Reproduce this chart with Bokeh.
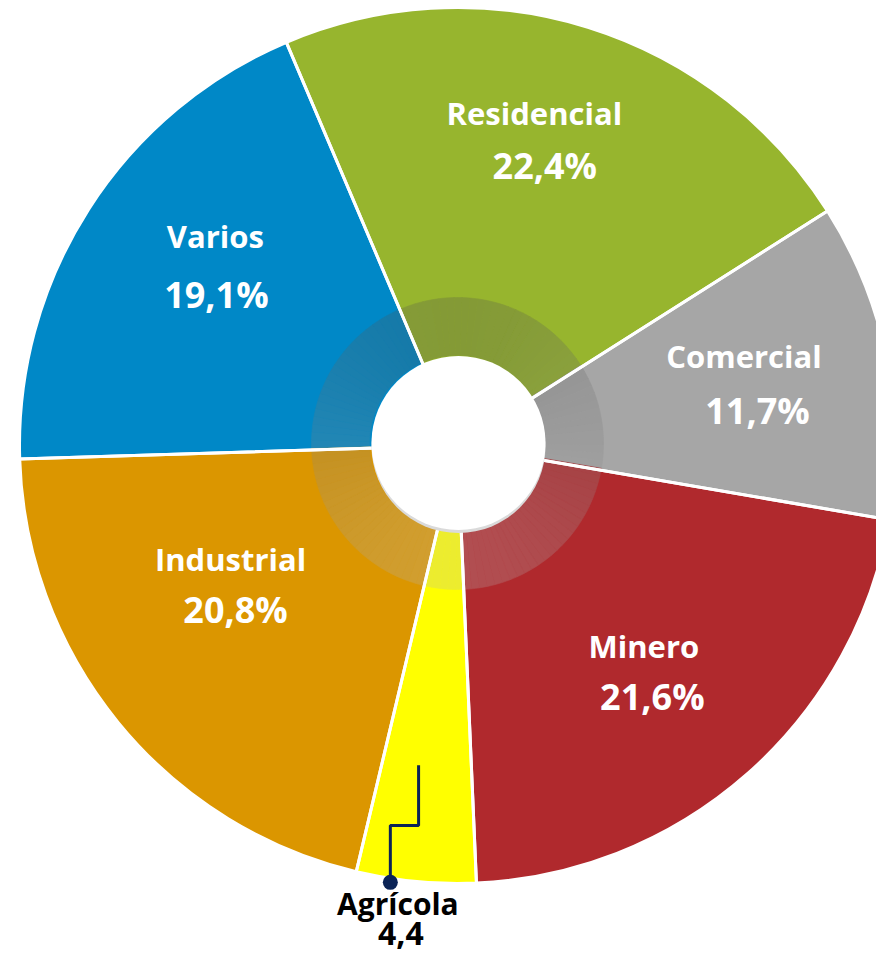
import math
import numpy as np
from bokeh.plotting import figure
from bokeh.models import ColumnDataSource, Range1d
from bokeh.core.properties import value
from bokeh.embed import file_html
from bokeh.resources import INLINE

# ---------------- data ----------------
categories = ["Residencial", "Comercial", "Minero", "Agrícola", "Industrial", "Varios"]
shares = [22.4, 11.7, 21.6, 4.4, 20.8, 19.1]
value_labels = ["22,4%", "11,7%", "21,6%", "4,4", "20,8%", "19,1%"]

# ---------------- style / layout ----------------
colors = ["#97B52E", "#A6A6A6", "#B0292D", "#FFFF00", "#DB9600", "#0088C7"]
label_colors = ["white", "white", "white", "black", "white", "white"]
START_DEG = 113.0          # where the first slice starts (counter-clockwise from 3 o'clock)
R_OUT = 438
RING_IN, RING_OUT = 88, 146
RING_CY = 2
RING_ALPHA = 0.26
HOLE_R = 87
NAME_R = [331, 297, 282, 473, 259, 313]
NAME_DTH = [3.9, 4.0, 0.0, -1.8, -10.4, -6.7]
TEXT_DY = 11
VALUE_DX = [10.5, 13.5, 8.5, 3, 5, 1]
VALUE_DY = [-52.5, -54.5, -50, -30, -50, -58]
NAME_SIZE = ["31px", "31px", "31px", "30px", "31px", "31px"]
VALUE_SIZE = ["36px", "36px", "36px", "32px", "36px", "36px"]
FONT = value("Open Sans")
NAVY = "#0B2356"

total = float(sum(shares))
cum = np.concatenate([[0.0], np.cumsum(shares)]) / total
start_deg = START_DEG - cum[:-1] * 360.0
end_deg = START_DEG - cum[1:] * 360.0
mid_deg = (start_deg + end_deg) / 2.0

src = ColumnDataSource(dict(
    cat=categories,
    start=np.radians(start_deg),
    end=np.radians(end_deg),
    color=colors,
))

p = figure(width=876, height=953, x_range=Range1d(-457, 419), y_range=Range1d(-508, 445),
           output_backend="svg", toolbar_location=None, min_border=0,
           outline_line_color=None, background_fill_color="white",
           border_fill_color="white")
p.axis.visible = False
p.grid.visible = False

# slices
p.wedge(x=0, y=0, radius=R_OUT, start_angle="start", end_angle="end", direction="clock",
        fill_color="color", line_color=None, source=src)


def hex_to_rgb(h):
    h = h.lstrip("#")
    return tuple(int(h[i:i + 2], 16) for i in (0, 2, 4))


# shaded ring: opaque blend of each slice colour with a grey that is darker at top
rs, re_, rc = [], [], []
for i, c in enumerate(colors):
    base = hex_to_rgb(c)
    n = max(2, int(abs(start_deg[i] - end_deg[i]) / 3))
    edges = np.linspace(start_deg[i], end_deg[i], n + 1)
    for k in range(n):
        a0, a1 = edges[k], edges[k + 1]
        am = math.radians((a0 + a1) / 2)
        g = 130 - 52 * math.sin(am)
        rgb = [int(round(b * (1 - RING_ALPHA) + g * RING_ALPHA)) for b in base]
        rs.append(math.radians(a0))
        re_.append(math.radians(a1))
        rc.append("#%02x%02x%02x" % tuple(rgb))
p.annular_wedge(x=0, y=RING_CY, inner_radius=RING_IN, outer_radius=RING_OUT,
                start_angle=rs, end_angle=re_, direction="clock",
                fill_color=rc, line_color=rc, line_width=0.6)

# white separators between slices
p.wedge(x=0, y=0, radius=R_OUT, start_angle="start", end_angle="end", direction="clock",
        fill_color=None, line_color="white", line_width=3, source=src)

# hole with a subtle shadow
p.circle(x=[1], y=[-0.5], radius=HOLE_R, fill_color="#dadada", line_color=None)
p.circle(x=[1], y=[2.5], radius=HOLE_R, fill_color="white", line_color=None)

# labels
nx, ny, vx, vy = [], [], [], []
for i in range(len(categories)):
    a = math.radians(mid_deg[i] + NAME_DTH[i])
    x = NAME_R[i] * math.cos(a)
    y = NAME_R[i] * math.sin(a) + TEXT_DY
    nx.append(x)
    ny.append(y)
    vx.append(x + VALUE_DX[i])
    vy.append(y + VALUE_DY[i])

lab = ColumnDataSource(dict(nx=nx, ny=ny, vx=vx, vy=vy, name=categories,
                            val=value_labels, col=label_colors,
                            ns=NAME_SIZE, vs=VALUE_SIZE))
p.text(x="nx", y="ny", text="name", text_color="col", text_font=FONT,
       text_font_style="bold", text_font_size="ns", text_align="center",
       text_baseline="alphabetic", source=lab)
p.text(x="vx", y="vy", text="val", text_color="col", text_font=FONT,
       text_font_style="bold", text_font_size="vs", text_align="center",
       text_baseline="alphabetic", source=lab)

# leader line for the small slice
ia = categories.index("Agrícola")
ta = math.radians(mid_deg[ia] - 1.5)
da = math.radians(mid_deg[ia] - 3.3)
top = (322 * math.cos(ta), 322 * math.sin(ta))
dot = ((R_OUT + 4) * math.cos(da), (R_OUT + 4) * math.sin(da))
elbow_y = -380
p.line(x=[dot[0], dot[0], top[0], top[0]], y=[dot[1], elbow_y, elbow_y, top[1]],
       line_color=NAVY, line_width=3)
p.scatter(x=[dot[0]], y=[dot[1]], size=15, fill_color=NAVY, line_color=None)

open("out.html", "w").write(file_html(p, INLINE))
